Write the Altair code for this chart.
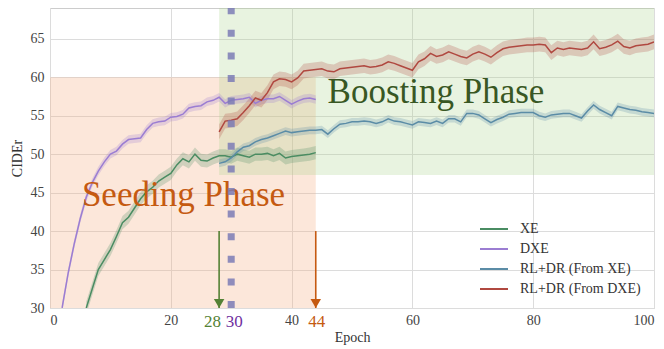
import altair as alt
import pandas as pd

# ---------------- data ----------------
series_names = ["XE", "DXE", "RL+DR (From XE)", "RL+DR (From DXE)"]
series_colors = ["#4a8c62", "#9b7dd2", "#5b8ca6", "#b04840"]
band_half = [0.85, 0.55, 0.5, 0.95]

epochs_xe = list(range(6, 45))
xe = [30.0, 32.5, 35.0, 36.3, 37.6, 39.3, 41.1, 41.8, 43.0, 44.2,
      45.1, 45.7, 46.5, 47.0, 47.5, 48.6, 49.4, 49.0, 50.0, 49.2,
      49.1, 49.5, 49.8, 49.8, 49.6, 50.0, 49.8, 49.6, 50.0, 50.0,
      50.1, 49.8, 50.1, 49.5, 49.7, 49.8, 49.9, 50.0, 50.2]

epochs_dxe = list(range(2, 45))
dxe = [30.0, 34.5, 38.3, 41.6, 44.4, 46.3, 47.8, 49.0, 50.0, 50.4,
       51.3, 51.9, 52.0, 52.1, 53.2, 54.0, 54.2, 54.3, 54.8, 54.9,
       55.2, 56.0, 56.2, 56.3, 56.8, 57.0, 57.4, 56.6, 57.0, 57.1,
       57.2, 57.4, 56.6, 57.0, 57.2, 57.2, 57.5, 57.0, 56.5, 56.9,
       57.2, 57.3, 57.1]

epochs_rl = list(range(28, 101))
rl_xe = [48.8, 49.0, 49.5, 50.3, 50.9, 51.1, 51.6, 51.9, 52.1, 52.4,
         52.7, 53.0, 52.8, 52.9, 53.0, 53.1, 53.1, 53.2, 52.6, 53.3,
         53.9, 54.0, 54.2, 54.2, 54.3, 54.2, 54.0, 54.2, 54.6, 54.3,
         54.2, 54.0, 53.8, 54.2, 54.1, 54.0, 54.3, 54.0, 54.6, 54.6,
         54.2, 55.3, 55.3, 55.1, 54.6, 54.1, 54.5, 54.8, 55.2, 55.3,
         55.4, 55.4, 55.4, 55.0, 54.8, 55.1, 55.2, 55.3, 55.3, 55.0,
         54.7, 55.6, 56.4, 55.8, 55.4, 55.0, 56.2, 56.0, 55.8, 55.7,
         55.5, 55.4, 55.3]
rl_dxe = [52.9, 54.3, 54.4, 54.6, 55.4, 56.3, 57.3, 57.0, 58.0, 59.4,
          59.8, 59.7, 59.4, 59.9, 60.8, 60.9, 61.0, 61.1, 60.8, 60.7,
          61.1, 61.2, 61.3, 61.4, 61.5, 61.3, 61.4, 61.6, 62.0, 61.8,
          61.5, 61.2, 60.9, 62.0, 62.4, 63.1, 62.7, 62.9, 63.3, 63.0,
          62.7, 62.5, 63.0, 63.3, 63.0, 62.6, 63.2, 63.7, 63.9, 64.0,
          64.1, 64.2, 64.2, 64.3, 64.2, 63.2, 63.8, 63.6, 63.8, 63.7,
          63.6, 63.8, 64.6, 63.7, 63.9, 64.2, 64.7, 64.0, 63.8, 64.1,
          64.2, 64.3, 64.6]

# phase boxes
phase_names = ["Seeding Phase", "Boosting Phase"]
phase_x0 = [0, 28]
phase_x1 = [44, 100]
phase_y0 = [30, 47.3]
phase_y1 = [60, 69]
phase_fill = ["#f4b183", "#a9d18e"]
phase_opacity = [0.3, 0.27]
phase_text_x = [22.1, 63.9]
phase_text_y = [43.2, 56.6]
phase_text_color = ["#c55a11", "#385723"]

# arrows and marker epochs
arrow_epochs = [28, 44]
arrow_top = [40, 40]
arrow_colors = ["#548235", "#c55a11"]
mark_labels = ["28", "30", "44"]
mark_epochs = [28, 30, 44]
mark_colors = ["#548235", "#7030a0", "#c55a11"]
mark_dx = [-6.5, 3, 1]
switch_epoch = 30

x_ticks = [0, 20, 40, 60, 80, 100]
y_ticks = [30, 35, 40, 45, 50, 55, 60, 65]

FONT = "Liberation Serif"

# legend layout (pixels inside the plot area)
LEG_LEFT, LEG_LINE_LEN, LEG_GAP = 430, 28, 12
LEG_TOP, LEG_ROW = 221, 20

# ---------------- build tables ----------------
rows = []
for name, ep, vals, hw in [
    (series_names[0], epochs_xe, xe, band_half[0]),
    (series_names[1], epochs_dxe, dxe, band_half[1]),
    (series_names[2], epochs_rl, rl_xe, band_half[2]),
    (series_names[3], epochs_rl, rl_dxe, band_half[3]),
]:
    for e, v in zip(ep, vals):
        rows.append({"series": name, "epoch": e, "value": v,
                     "lo": v - hw, "hi": v + hw})
df = pd.DataFrame(rows)

phases = pd.DataFrame({
    "name": phase_names, "x0": phase_x0, "x1": phase_x1,
    "y0": phase_y0, "y1": phase_y1, "fill": phase_fill,
    "op": phase_opacity, "tx": phase_text_x, "ty": phase_text_y,
    "tc": phase_text_color,
})
arrows = pd.DataFrame({"epoch": arrow_epochs, "top": arrow_top,
                       "bottom": [30] * len(arrow_epochs), "c": arrow_colors})
switch = pd.DataFrame({"epoch": [switch_epoch], "y0": [30], "y1": [69]})
legend_df = pd.DataFrame({
    "series": series_names,
    "ly": [LEG_TOP + i * LEG_ROW for i in range(len(series_names))],
})

xscale = alt.Scale(domain=[0, 100], nice=False)
yscale = alt.Scale(domain=[30, 69], nice=False)
cscale = alt.Scale(domain=series_names, range=series_colors)

rects = alt.Chart(phases).mark_rect().encode(
    x=alt.X("x0:Q", scale=xscale,
            axis=alt.Axis(values=x_ticks, title="Epoch", labelPadding=5,
                          titlePadding=3)),
    x2="x1:Q",
    y=alt.Y("y0:Q", scale=yscale,
            axis=alt.Axis(values=y_ticks, title="CIDEr", labelPadding=6,
                          titlePadding=6)),
    y2="y1:Q",
    fill=alt.Fill("fill:N", scale=None),
    opacity=alt.Opacity("op:Q", scale=None),
)

bands = alt.Chart(df).mark_area(opacity=0.25, clip=True).encode(
    x=alt.X("epoch:Q", scale=xscale),
    y=alt.Y("lo:Q", scale=yscale),
    y2="hi:Q",
    color=alt.Color("series:N", scale=cscale, legend=None),
    detail="series:N",
)

lines = alt.Chart(df).mark_line(strokeWidth=1.5, clip=True).encode(
    x=alt.X("epoch:Q", scale=xscale),
    y=alt.Y("value:Q", scale=yscale),
    color=alt.Color("series:N", scale=cscale, legend=None),
)

# legend drawn as marks (transparent, like the reference)
leg_lines = alt.Chart(legend_df).mark_rule(strokeWidth=2).encode(
    x=alt.value(LEG_LEFT),
    x2=alt.value(LEG_LEFT + LEG_LINE_LEN),
    y=alt.Y("ly:Q", scale=None),
    color=alt.Color("series:N", scale=cscale, legend=None),
)
leg_text = alt.Chart(legend_df).mark_text(
    font=FONT, fontSize=14, align="left", baseline="middle",
    color="#333333").encode(
    x=alt.value(LEG_LEFT + LEG_LINE_LEN + LEG_GAP),
    y=alt.Y("ly:Q", scale=None),
    text="series:N",
)

texts = alt.Chart(phases).mark_text(font=FONT, fontSize=35, align="center",
                                    baseline="alphabetic").encode(
    x=alt.X("tx:Q", scale=xscale),
    y=alt.Y("ty:Q", scale=yscale),
    text="name:N",
    color=alt.Color("tc:N", scale=None),
)

arrow_lines = alt.Chart(arrows).mark_rule(strokeWidth=1.6).encode(
    x=alt.X("epoch:Q", scale=xscale),
    y=alt.Y("top:Q", scale=yscale),
    y2=alt.Y2("bottom:Q"),
    color=alt.Color("c:N", scale=None),
)
arrow_heads = alt.Chart(arrows).mark_point(shape="triangle-down", filled=True,
                                           size=110, opacity=1,
                                           yOffset=-4.5).encode(
    x=alt.X("epoch:Q", scale=xscale),
    y=alt.Y("bottom:Q", scale=yscale),
    color=alt.Color("c:N", scale=None),
)

dotted = alt.Chart(switch).mark_rule(strokeWidth=7, strokeDash=[7, 15.6],
                                     strokeCap="butt", color="#7b7bb5",
                                     opacity=0.85).encode(
    x=alt.X("epoch:Q", scale=xscale),
    y=alt.Y("y0:Q", scale=yscale),
    y2="y1:Q",
)

# coloured epoch labels under the axis, one layer each for its own offset
mark_layers = []
for lab, ep, col, dx in zip(mark_labels, mark_epochs, mark_colors, mark_dx):
    mdf = pd.DataFrame({"label": [lab], "epoch": [ep], "y": [30]})
    mark_layers.append(
        alt.Chart(mdf).mark_text(font=FONT, fontSize=17, align="center",
                                 baseline="alphabetic", dy=18.5, dx=dx,
                                 color=col).encode(
            x=alt.X("epoch:Q", scale=xscale),
            y=alt.Y("y:Q", scale=yscale),
            text="label:N",
        )
    )

chart = alt.layer(
    rects, bands, lines, leg_lines, leg_text, texts, arrow_lines,
    arrow_heads, dotted, *mark_layers
).resolve_scale(color="independent").properties(
    width=604, height=300,
    padding={"left": 42, "top": 0, "right": 2, "bottom": 38},
    autosize=alt.AutoSizeParams(type="none"),
).configure_axis(
    labelFont=FONT, labelFontSize=14, labelColor="#444444",
    titleFont=FONT, titleFontSize=14, titleColor="#333333",
    titleFontWeight="normal",
    grid=True, gridColor="#dcdcdc", gridWidth=1,
    domain=False, ticks=False,
).configure_view(stroke="#cccccc")

chart.save("out.html", embed_options={"renderer": "svg", "actions": False})
